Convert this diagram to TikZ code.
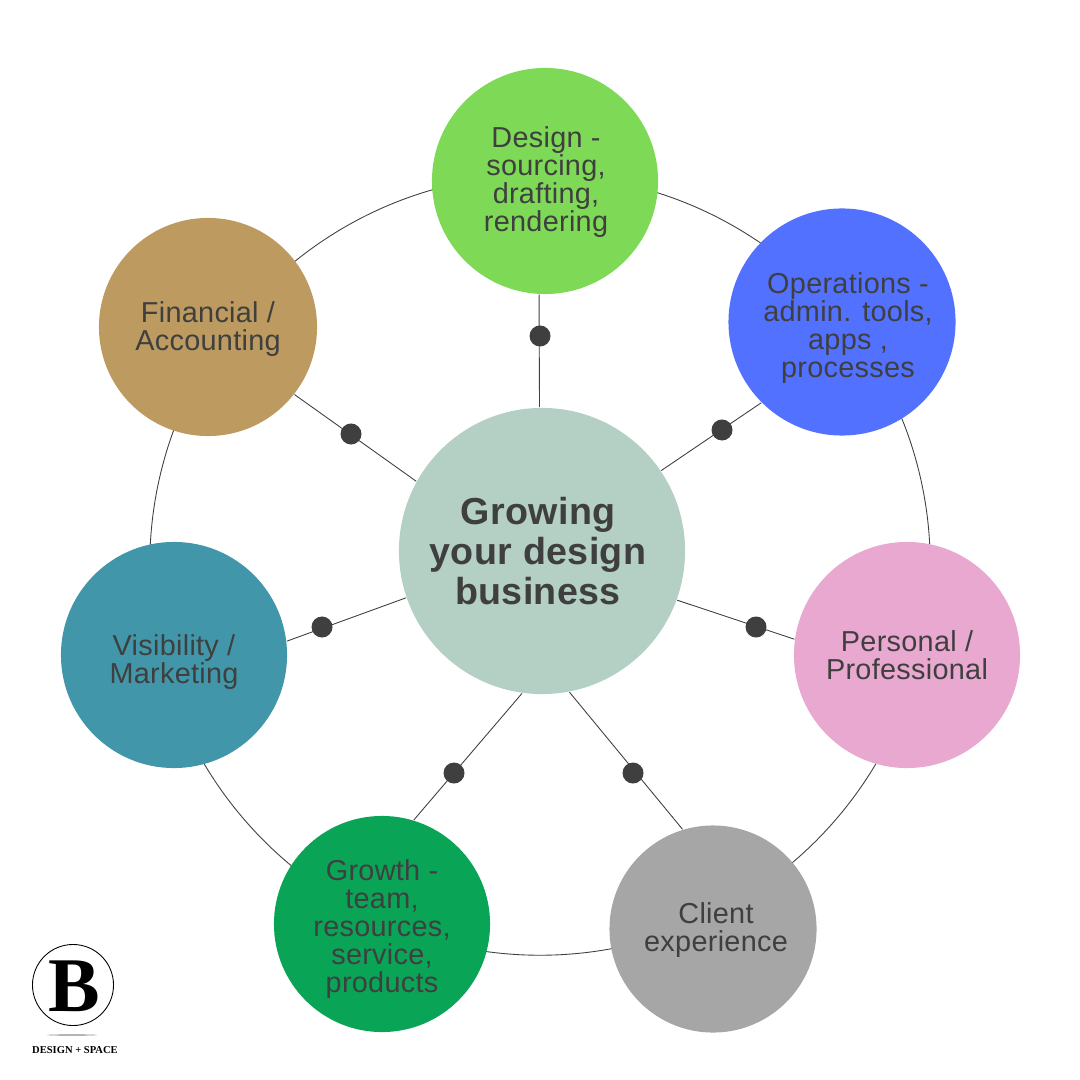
\documentclass[tikz,border=0pt]{standalone}
\usepackage{fontspec}
\setmainfont[LetterSpace=1]{Liberation Sans}
\newfontfamily\logofont{Liberation Serif}
\usetikzlibrary{
  shapes.geometric,
  backgrounds
}
\definecolor{DarkInk}{HTML}{3F3F3F}
\definecolor{HubSage}{HTML}{B4D0C4}
\definecolor{DesignLime}{HTML}{7ED957}
\definecolor{OpsBlue}{HTML}{5271FF}
\definecolor{PersonalPink}{HTML}{E8A8D0}
\definecolor{ClientGrey}{HTML}{A6A6A6}
\definecolor{GrowthGreen}{HTML}{0AA457}
\definecolor{VisTeal}{HTML}{4197A9}
\definecolor{FinTan}{HTML}{BC9A60}
\tikzset{
  % Topic circle
  topic/.style={circle, fill=#1, inner sep=0pt},
  % Words sitting on a topic circle
  tag/.style={
    inner sep=0pt, align=center, text=DarkInk,
    font=\fontsize{8.2}{7.94}\selectfont
  },
  % Middle circle
  hubnode/.style={
    circle, fill=HubSage, inner sep=0pt, minimum size=2.86cm
  },
  hubtag/.style={
    inner sep=0pt, align=center, text=DarkInk,
    font=\fontsize{10.7}{11.34}\selectfont\bfseries
  },
  % Dot on a spoke
  knob/.style={circle, fill=DarkInk, inner sep=0pt, minimum size=0.21cm},
  % Thin line
  wire/.style={draw=DarkInk, line width=0.25pt}
}
\begin{document}
\begin{tikzpicture}[x=0.01cm, y=-0.01cm]
  \useasboundingbox (0,0) rectangle (1080,1080);

  \node[hubnode, label={[hubtag, xshift=-0.04cm]center:Growing\\your design\\business}] (hub) at (542,551) {};
  \node[topic=DesignLime,   minimum size=2.26cm, label={[tag, xshift=0.01cm, yshift=-0.01cm]center:Design -\\sourcing,\\drafting,\\rendering}] (design) at (545,181) {};
  \node[topic=OpsBlue,      minimum size=2.27cm, label={[tag, xshift=0.06cm, yshift=-0.06cm]center:Operations -\\admin. tools,\\apps ,\\processes}] (ops) at (842,322) {};
  \node[topic=PersonalPink, minimum size=2.26cm, label={[tag]center:Personal /\\Professional}] (personal) at (907,655) {};
  \node[topic=ClientGrey,   minimum size=2.07cm, label={[tag, xshift=0.03cm, yshift=-0.01cm]center:Client\\experience}] (client) at (713,929) {};
  \node[topic=GrowthGreen,  minimum size=2.16cm, label={[tag, yshift=-0.05cm]center:Growth -\\team,\\resources,\\service,\\products}] (growth) at (382,924) {};
  \node[topic=VisTeal,      minimum size=2.26cm, label={[tag, yshift=-0.07cm]center:Visibility /\\Marketing}] (vis) at (174,655) {};
  \node[topic=FinTan,       minimum size=2.18cm, label={[tag, yshift=-0.02cm]center:Financial /\\Accounting}] (fin) at (208,327) {};

  \node[knob] (k1) at (540,336) {};
  \node[knob] (k2) at (722,430) {};
  \node[knob] (k3) at (756,627) {};
  \node[knob] (k4) at (633,773) {};
  \node[knob] (k5) at (454,773) {};
  \node[knob] (k6) at (322,627) {};
  \node[knob] (k7) at (351,434) {};

  \begin{pgfonlayer}{background}
    \node[circle, wire, inner sep=0pt, minimum size=7.8cm] (ring) at (540,565) {};
    \draw[wire] (hub.91) -- (design.267);
    \draw[wire] (hub.34) -- (ops.225);
    \draw[wire] (hub.-20) -- (personal.172);
    \draw[wire] (hub.-79) -- (client.107);
    \draw[wire] (hub.262) -- (growth.73);
    \draw[wire] (hub.199) -- (vis.7);
    \draw[wire] (hub.151) -- (fin.322);
  \end{pgfonlayer}

  % Logo
  \node[circle, draw=black, line width=0.25pt, inner sep=0pt, minimum size=0.81cm] (logoring) at (73,985) {};
  \node[inner sep=0pt, font=\logofont\fontsize{22}{22}\selectfont\bfseries] (logob) at (74,986) {B};
  \node[ellipse, fill=black!45, inner sep=0pt, minimum width=0.5cm, minimum height=0.012cm] (logoline) at (72,1035) {};
  \node[inner sep=0pt, font=\logofont\fontsize{3}{3.5}\selectfont\bfseries] (logotext) at (75,1050) {DESIGN + SPACE};
\end{tikzpicture}
\end{document}
